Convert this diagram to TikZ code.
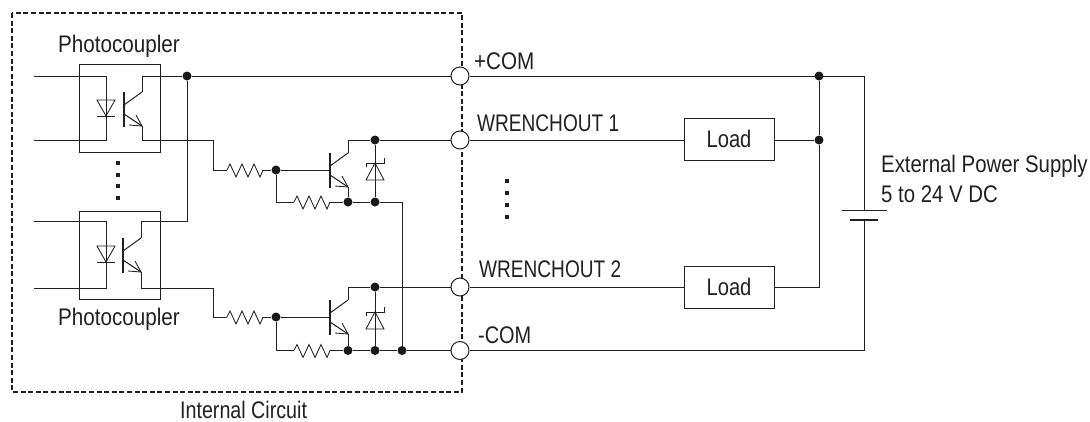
\documentclass[tikz,border=0pt]{standalone}
\usepackage{fontspec}
\setmainfont{Liberation Sans}
\definecolor{ink}{HTML}{202020}
\tikzset{
  x=1pt,y=-1pt,
  wire/.style={draw=ink,line width=1pt,line join=miter},
  thin wire/.style={draw=ink,line width=0.85pt},
  frame/.style={draw=ink,line width=1.3pt,dash pattern=on 5pt off 2.6pt},
  dotnode/.style={circle,fill=black!90,inner sep=0pt,minimum size=9pt},
  term/.style={circle,draw=ink,fill=white,line width=1pt,inner sep=0pt,minimum size=18pt},
  loadbox/.style={draw=ink,line width=1pt,minimum width=90pt,minimum height=42pt,inner sep=0pt,text=ink,font=\fontsize{24}{26}\selectfont\addfontfeature{FakeStretch=0.84}},
  label/.style={inner sep=0pt,anchor=base west,text=ink,font=\fontsize{24}{26}\selectfont,xscale=#1},
  label/.default=0.85,
  dotsq/.style={fill=ink,minimum size=4pt,inner sep=0pt},
}
\newcommand{\resistor}[3]{% start, y, length
  \draw[thin wire] (#1,#2) -- ++(#3/12,-6) -- ++(#3/6,13) -- ++(#3/6,-13) -- ++(#3/6,13) -- ++(#3/6,-13) -- ++(#3/6,13) -- ++(#3/12,-7);
}
\newcommand{\bjt}[2]{% x of bar, y of base
  \draw[line width=2pt,draw=ink] (#1,#2-17) -- (#1,#2+18);
  \draw[wire] (#1,#2-4) -- (#1+18,#2-17);
  \draw[wire] (#1,#2+5) -- (#1+18,#2+17);
  \draw[thin wire] (#1+12,#2+6) -- (#1+18,#2+17) -- (#1+5,#2+16);
}
\newcommand{\ledd}[2]{% x, y of top of triangle
  \draw[thin wire] (#1-9,#2) -- (#1+9,#2) -- (#1,#2+16) -- cycle;
  \draw[thin wire] (#1-9,#2+16) -- (#1+9,#2+16);
}
\newcommand{\zener}[2]{% x, y of bar
  \draw[thin wire] (#1-9,#2+4) -- (#1-9,#2) -- (#1+9,#2) -- (#1+9,#2-5);
  \draw[thin wire] (#1,#2) -- (#1-9,#2+17) -- (#1+9,#2+17) -- cycle;
}
\begin{document}
\begin{tikzpicture}
\useasboundingbox (0,0) rectangle (1090,421);
% internal circuit frame
\draw[frame] (12,13) rectangle (462,392);
% nodes
\node[dotnode] (d1) at (187,76) {};
\node[term] (t1) at (460,76) {};
\node[term] (t2) at (460,140) {};
\node[term] (t3) at (460,287) {};
\node[term] (t4) at (460,350.5) {};
\node[dotnode] (d2) at (276,170) {};
\node[dotnode] (d3) at (348,202) {};
\node[dotnode] (d4) at (375,202) {};
\node[dotnode] (d5) at (375,140) {};
\node[dotnode] (d6) at (276,317) {};
\node[dotnode] (d7) at (348,350.5) {};
\node[dotnode] (d8) at (375,350.5) {};
\node[dotnode] (d9) at (402,350.5) {};
\node[dotnode] (d10) at (375,287) {};
\node[dotnode] (d11) at (819,76) {};
\node[dotnode] (d12) at (819,140) {};
\node[loadbox] (l1) at (729,139) {Load};
\node[loadbox] (l2) at (729,287) {Load};
\coordinate (b1) at (864,210);
\coordinate (b2) at (864,220);
\coordinate (railcorner) at (864,350.5);
% photocouplers
\draw[wire] (79,64) rectangle (160,152);
\draw[wire] (79,211) rectangle (160,299);
% inputs and LEDs
\draw[wire] (34,76) -- (106,76) -- (106,140) -- (34,140);
\draw[wire] (34,221) -- (106,221) -- (106,288) -- (34,288);
\ledd{106}{100}
\ledd{106}{246}
% opto transistors
\bjt{124}{109}
\bjt{123}{255}
\draw[wire] (142,92) -- (142,76) -- (d1);
\draw[wire] (142,126) -- (142,140) -- (213,140) -- (213,170) -- (227,170);
\draw[wire] (141,238) -- (141,221) -- (187,221) -- (d1);
\draw[wire] (141,272) -- (141,288) -- (213,288) -- (213,317) -- (227,317);
% rails
\draw[wire] (d1) -- (t1);
\draw[wire] (t1) -- (864,76) -- (b1);
\draw[wire] (b2) -- (railcorner) -- (t4);
% output stage 1
\resistor{227}{170}{36}
\draw[wire] (263,170) -- (d2) -- (330,170);
\draw[wire] (d2) -- (276,202) -- (294,202);
\resistor{294}{202}{36}
\draw[wire] (330,202) -- (d3) -- (d4) -- (402,202) -- (d9);
\bjt{330}{170}
\draw[wire] (348,153) -- (348,140) -- (d5) -- (t2);
\draw[wire] (348,187) -- (d3);
\draw[wire] (d5) -- (d4);
\zener{375}{163}
% output stage 2
\resistor{227}{317}{36}
\draw[wire] (263,317) -- (d6) -- (330,317);
\draw[wire] (d6) -- (276,350.5) -- (294,350.5);
\resistor{294}{350.5}{36}
\draw[wire] (330,350.5) -- (d7) -- (d8) -- (d9) -- (t4);
\bjt{330}{317}
\draw[wire] (348,300) -- (348,287) -- (d10) -- (t3);
\draw[wire] (348,334) -- (d7);
\draw[wire] (d10) -- (d8);
\zener{375}{312}
% outputs
\draw[wire] (t2) -- (t2 -| l1.west);
\draw[wire] (t3) -- (l2.west);
\draw[wire] (d12 -| l1.east) -- (d12);
\draw[wire] (d11) -- (d12) -- (819,287) -- (l2.east);
% battery
\draw[wire] (842,210) -- (887,210);
\draw[line width=2pt,draw=ink] (850,220) -- (878,220);
% dots
\foreach \i/\y in {a/163,b/175,c/186,d/198} \node[dotsq] (p\i) at (118,\y) {};
\foreach \i/\y in {a/181,b/193,c/205,d/217} \node[dotsq] (q\i) at (507,\y) {};
% labels
\node[label=0.86] (n1) at (58,52) {Photocoupler};
\node[label=0.86] (n2) at (58,325) {Photocoupler};
\node[label=0.82] (n3) at (180,418) {Internal Circuit};
\node[label=0.86] (n4) at (474,69) {+COM};
\node[label=0.795] (n5) at (477,131) {WRENCHOUT 1};
\node[label=0.795] (n6) at (479,277) {WRENCHOUT 2};
\node[label=0.83] (n7) at (478,343) {-COM};
\node[label=0.85] (n8) at (881,172) {External Power Supply};
\node[label=0.85] (n9) at (881,202) {5 to 24 V DC};
\end{tikzpicture}
\end{document}
